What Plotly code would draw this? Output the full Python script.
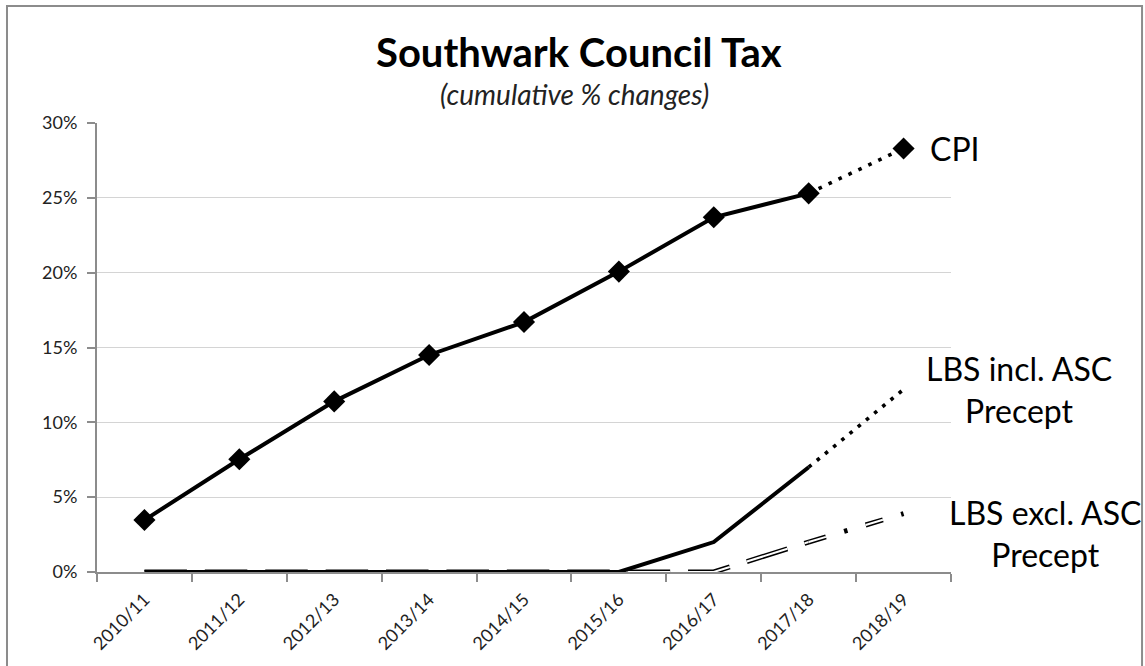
import plotly.graph_objects as go

years = ["2010/11", "2011/12", "2012/13", "2013/14", "2014/15",
         "2015/16", "2016/17", "2017/18", "2018/19"]
cpi = [3.47, 7.53, 11.4, 14.5, 16.7, 20.07, 23.7, 25.3, 28.3]
lbs_incl = [0, 0, 0, 0, 0, 0, 2.0, 7.0, 12.2]
lbs_excl = [0, 0, 0, 0, 0, 0, 0.0, 2.0, 3.9]
tick_vals = [0, 0.05, 0.10, 0.15, 0.20, 0.25, 0.30]

FONT = "Lato"
n_actual = 8  # last actual year index + 1 (2017/18); 2018/19 is projected


def split(vals):
    v = [x / 100 for x in vals]
    solid = v[:n_actual] + [None] * (len(v) - n_actual)
    proj = [None] * (n_actual - 1) + v[n_actual - 1:]
    return solid, proj


cpi_s, cpi_p = split(cpi)
inc_s, inc_p = split(lbs_incl)
exc_s, exc_p = split(lbs_excl)

fig = go.Figure()

# LBS excl. ASC precept - hollow dashed line (black outline + white core)
fig.add_trace(go.Scatter(x=years, y=exc_s, mode="lines", cliponaxis=False,
                         line=dict(color="black", width=5, dash="42.5px,17.9px"),
                         showlegend=False, hoverinfo="skip"))
fig.add_trace(go.Scatter(x=years, y=exc_s, mode="lines", cliponaxis=False,
                         line=dict(color="white", width=2, dash="42.5px,17.9px"),
                         showlegend=False, hoverinfo="skip"))
fig.add_trace(go.Scatter(x=years, y=exc_p, mode="lines", cliponaxis=False,
                         line=dict(color="black", width=5, dash="18px,19px,3.5px,19px"),
                         showlegend=False, hoverinfo="skip"))
fig.add_trace(go.Scatter(x=years, y=exc_p, mode="lines", cliponaxis=False,
                         line=dict(color="white", width=2, dash="18px,41.5px"),
                         showlegend=False, hoverinfo="skip"))

# LBS incl. ASC precept
fig.add_trace(go.Scatter(x=years, y=inc_s, mode="lines", cliponaxis=False,
                         line=dict(color="black", width=4),
                         showlegend=False))
fig.add_trace(go.Scatter(x=years, y=inc_p, mode="lines", cliponaxis=False,
                         line=dict(color="black", width=3.6, dash="3.6px,7px"),
                         showlegend=False))

# CPI
fig.add_trace(go.Scatter(x=years, y=cpi_s, mode="lines", cliponaxis=False,
                         line=dict(color="black", width=4),
                         showlegend=False))
fig.add_trace(go.Scatter(x=years, y=cpi_p, mode="lines", cliponaxis=False,
                         line=dict(color="black", width=3.6, dash="3.6px,7.4px"),
                         showlegend=False))
fig.add_trace(go.Scatter(x=years, y=[v / 100 for v in cpi], mode="markers",
                         cliponaxis=False,
                         marker=dict(symbol="diamond", size=17, color="black"),
                         showlegend=False))

annotations = [
    dict(text="<b>Southwark Council Tax</b>", xref="paper", yref="paper",
         x=0.5644, y=1.158, xanchor="center", yanchor="middle", showarrow=False,
         font=dict(family=FONT, size=40, color="black")),
    dict(text="<i>(cumulative % changes)</i>", xref="paper", yref="paper",
         x=0.559, y=1.065, xanchor="center", yanchor="middle", showarrow=False,
         font=dict(family=FONT, size=28, color="#222222")),
    dict(text="CPI", x=years[-1], y=cpi[-1] / 100, xanchor="left", yanchor="middle",
         xshift=24, showarrow=False,
         font=dict(family=FONT, size=32, color="black")),
    dict(text="LBS incl. ASC<br>Precept", x=years[-1], y=lbs_incl[-1] / 100,
         xanchor="center", yanchor="middle", xshift=115, yshift=0, align="center",
         showarrow=False, font=dict(family=FONT, size=32, color="black")),
    dict(text="LBS excl. ASC<br>Precept", x=years[-1], y=lbs_excl[-1] / 100,
         xanchor="center", yanchor="middle", xshift=141, yshift=-20, align="center",
         showarrow=False, font=dict(family=FONT, size=32, color="black")),
]

fig.update_layout(
    width=1145, height=666,
    margin=dict(l=97, r=194, t=123, b=94),
    paper_bgcolor="white", plot_bgcolor="white",
    font=dict(family=FONT, color="#222222"),
    annotations=annotations,
    shapes=[dict(type="rect", xref="paper", yref="paper",
                 x0=-0.1054, x1=1.2237, y0=-0.3, y1=1.2606,
                 line=dict(color="#8c8c8c", width=2), layer="below")],
    xaxis=dict(type="category", range=[-0.5, 8.5], tickson="boundaries",
               showline=True, linecolor="#8c8c8c", linewidth=2,
               ticks="outside", ticklen=8, tickcolor="#8c8c8c", tickwidth=2,
               tickangle=-45, ticklabelstandoff=8, automargin=False,
               tickfont=dict(family=FONT, size=18, color="#222222"),
               showgrid=False, zeroline=False, layer="below traces", fixedrange=True),
    yaxis=dict(range=[0, 0.30], tickvals=tick_vals, tickformat=".0%",
               showline=True, linecolor="#8c8c8c", linewidth=2,
               ticks="outside", ticklen=8, tickcolor="#8c8c8c", tickwidth=2,
               ticklabelstandoff=6, automargin=False,
               showgrid=True, gridcolor="#d4d4d4", gridwidth=1.3, zeroline=False,
               tickfont=dict(family=FONT, size=18, color="#222222"),
               layer="below traces", fixedrange=True),
)

fig.write_html("out.html")
